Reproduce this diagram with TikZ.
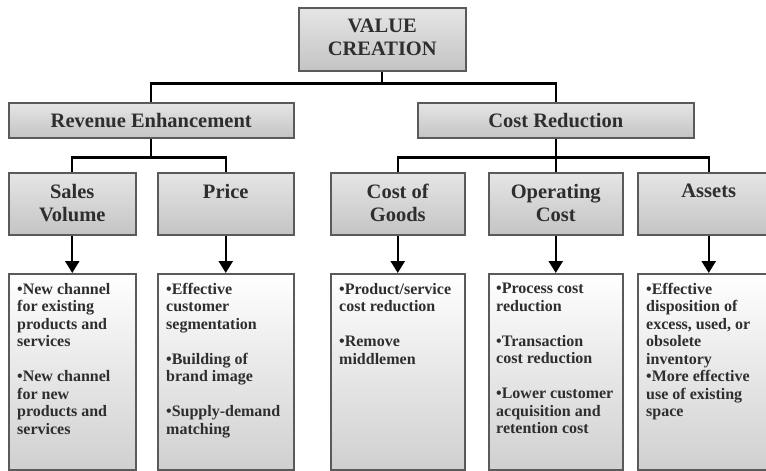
\documentclass[tikz,border=0pt]{standalone}
\usepackage{fontspec}
\setmainfont{Liberation Serif}
\usepackage{xcolor}
\usetikzlibrary{arrows.meta}
\definecolor{edge}{HTML}{5A5A5A}
\definecolor{shade}{HTML}{C4C4C4}
\definecolor{ink}{HTML}{2E2E2E}
\tikzset{
  headbox/.style={draw=edge, line width=1.5pt, top color=black!10, bottom color=shade,
    anchor=north west, minimum height=62pt, inner sep=0pt, text=ink},
  headtext/.style={anchor=north, inner sep=0pt, align=center, text=ink,
    font=\fontsize{20.5}{23}\selectfont\bfseries},
  listbox/.style={draw=edge, line width=1.5pt, top color=white, bottom color=shade!80,
    anchor=north west, minimum height=196pt, inner sep=0pt},
  listtext/.style={anchor=north west, inner sep=0pt, align=left, text=ink,
    font=\fontsize{16}{17.5}\selectfont\bfseries},
  link/.style={line width=2.4pt, black},
  down/.style={link, -{Triangle[width=14pt,length=12pt]}},
}
\begin{document}
\begin{tikzpicture}[x=1pt, y=1pt]
\clip (0,0) rectangle (766,-471);
\useasboundingbox (0,0) rectangle (766,-471);

% root and the two main branches
\node[headbox, minimum width=167pt, minimum height=63pt] (vc) at (298,-7) {};
\node[headtext] (vct) at ([yshift=-12pt]vc.north) {VALUE\\CREATION};
\node[headbox, minimum width=285pt, minimum height=35pt,
  font=\fontsize{20.5}{23}\selectfont\bfseries] (rev) at (8,-102) {Revenue Enhancement};
\node[headbox, minimum width=276pt, minimum height=35pt,
  font=\fontsize{20.5}{23}\selectfont\bfseries] (cost) at (417,-102) {Cost Reduction};

% second level
\node[headbox, minimum width=127pt] (sales) at (8,-172) {};
\node[headbox, minimum width=136pt] (price) at (157,-172) {};
\node[headbox, minimum width=134pt] (goods) at (330,-172) {};
\node[headbox, minimum width=134pt] (opcost) at (488,-172) {};
\node[headbox, minimum width=142pt] (assets) at (637,-172) {};
\node[headtext] (salest) at ([yshift=-12pt]sales.north) {Sales\\Volume};
\node[headtext] (pricet) at ([yshift=-12pt]price.north) {Price};
\node[headtext] (goodst) at ([yshift=-12pt]goods.north) {Cost of\\Goods};
\node[headtext] (opcostt) at ([yshift=-12pt]opcost.north) {Operating\\Cost};
\node[headtext] (assetst) at ([yshift=-12pt]assets.north) {Assets};

% lists below each box
\node[listbox, minimum width=127pt] (salesl) at (8,-273) {};
\node[listbox, minimum width=136pt] (pricel) at (157,-273) {};
\node[listbox, minimum width=134pt] (goodsl) at (330,-273) {};
\node[listbox, minimum width=134pt] (opcostl) at (488,-273) {};
\node[listbox, minimum width=142pt] (assetsl) at (637,-273) {};

\node[listtext] (salesx) at ([shift={(9pt,-10pt)}]salesl.north west)
  {\textbullet New channel\\for existing\\products and\\services\\[17.5pt]
   \textbullet New channel\\for new\\products and\\services};
\node[listtext] (pricex) at ([shift={(9pt,-10pt)}]pricel.north west)
  {\textbullet Effective\\customer\\segmentation\\[17.5pt]
   \textbullet Building of\\brand image\\[17.5pt]
   \textbullet Supply-demand\\matching};
\node[listtext] (goodsx) at ([shift={(9pt,-10pt)}]goodsl.north west)
  {\textbullet Product/service\\cost reduction\\[17.5pt]
   \textbullet Remove\\middlemen};
\node[listtext] (opcostx) at ([shift={(8pt,-10pt)}]opcostl.north west)
  {\textbullet Process cost\\reduction\\[17.5pt]
   \textbullet Transaction\\cost reduction\\[17.5pt]
   \textbullet Lower customer\\acquisition and\\retention cost};
\node[listtext] (assetsx) at ([shift={(9pt,-10pt)}]assetsl.north west)
  {\textbullet Effective\\disposition of\\excess, used, or\\obsolete\\inventory\\
   \textbullet More effective\\use of existing\\space};

% tree lines
\draw[link] (vc.south) -- ++(0,-12) coordinate (topj);
\draw[link] (rev.north) |- (topj) -| (cost.north);
\draw[link] (rev.south) -- ++(0,-19) coordinate (revj);
\draw[link] (sales.north) |- (revj) -| (price.north);
\draw[link] (cost.south) -- ++(0,-19) coordinate (costj);
\draw[link] (goods.north) |- (costj) -| (assets.north);
\draw[link] (costj) -- (opcost.north);

% arrows into the lists
\draw[down] (sales.south) -- (salesl.north);
\draw[down] (price.south) -- (pricel.north);
\draw[down] (goods.south) -- (goodsl.north);
\draw[down] (opcost.south) -- (opcostl.north);
\draw[down] (assets.south) -- (assetsl.north);
\end{tikzpicture}
\end{document}
